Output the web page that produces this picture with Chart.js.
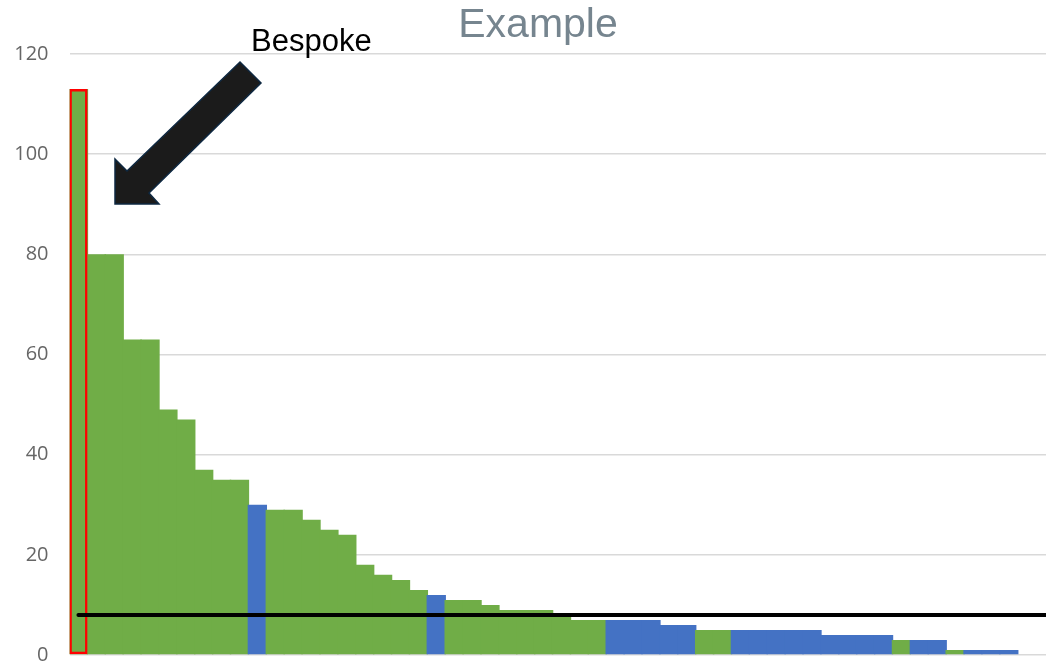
<!DOCTYPE html>
<html>
<head>
<meta charset="utf-8">
<script src="https://cdn.jsdelivr.net/npm/chart.js@4.4.1/dist/chart.umd.min.js"></script>
<style>
  html, body { margin: 0; padding: 0; background: #fff; }
  #wrap { width: 1046px; height: 665px; }
</style>
</head>
<body>
<div id="wrap"><canvas id="c" width="1046" height="665"></canvas></div>
<script>
// ---- data ----
const values = [113, 80, 80, 63, 63, 49, 47, 37, 35, 35, 30, 29, 29, 27, 25, 24, 18, 16, 15, 13, 12, 11, 11, 10, 9, 9, 9, 8, 7, 7, 7, 7, 7, 6, 6, 5, 5, 5, 5, 5, 5, 5, 4, 4, 4, 4, 3, 3, 3, 1, 1, 1, 1];
const groups = ['g','g','g','g','g','g','g','g','g','g','b','g','g','g','g','g','g','g','g','g','b','g','g','g','g','g','g','g','g','g','b','b','b','b','b','g','g','b','b','b','b','b','b','b','b','b','g','b','b','g','b','b','b'];
const highlighted = [0];
const threshold = 8;
const yTicks = [0, 20, 40, 60, 80, 100, 120];
const title = 'Example';
const annotationText = 'Bespoke';

const GREEN = '#70AD47', BLUE = '#4472C4';
const xMax = 54.58;

const barData = values.map((v, i) => ({ x: i + 0.5, y: v }));
const barColors = groups.map(g => g === 'g' ? GREEN : BLUE);
const highlightData = highlighted.map(i => ({ x: i + 0.5, y: values[i] }));

const decor = {
  id: 'decor',
  afterDraw(chart) {
    const ctx = chart.ctx;
    ctx.save();
    // title
    ctx.font = '41px "Liberation Sans", Arial, sans-serif';
    ctx.fillStyle = '#76858f';
    ctx.textAlign = 'center';
    ctx.textBaseline = 'alphabetic';
    ctx.fillText(title, 538, 37);
    // annotation text
    ctx.font = '31px "Liberation Sans", Arial, sans-serif';
    ctx.fillStyle = '#000';
    ctx.textAlign = 'left';
    ctx.fillText(annotationText, 251, 51);
    // arrow
    ctx.beginPath();
    ctx.moveTo(240, 62);
    ctx.lineTo(261, 83);
    ctx.lineTo(149, 193);
    ctx.lineTo(159, 204);
    ctx.lineTo(115, 204);
    ctx.lineTo(115, 159);
    ctx.lineTo(127, 171);
    ctx.closePath();
    ctx.fillStyle = '#1b1b1b';
    ctx.fill();
    ctx.lineWidth = 1.5;
    ctx.strokeStyle = '#0e2841';
    ctx.stroke();
    ctx.restore();
  }
};

new Chart(document.getElementById('c'), {
  type: 'bar',
  data: {
    datasets: [
      {
        type: 'line',
        data: [{ x: 0.5, y: threshold }, { x: xMax, y: threshold }],
        borderColor: '#000',
        borderWidth: 4,
        borderCapStyle: 'round',
        pointRadius: 0,
        fill: false,
        order: 0,
        clip: false
      },
      {
        type: 'bar',
        data: highlightData,
        backgroundColor: 'rgba(0,0,0,0)',
        borderColor: '#FF0000',
        borderWidth: 2.5,
        borderSkipped: false,
        barPercentage: 1.02,
        categoryPercentage: 1,
        grouped: false,
        order: 1
      },
      {
        type: 'bar',
        data: barData,
        backgroundColor: barColors,
        borderWidth: 0,
        barPercentage: 1.08,
        categoryPercentage: 1,
        grouped: false,
        order: 2
      }
    ]
  },
  options: {
    responsive: false,
    animation: false,
    layout: { padding: { top: 54, bottom: 9, left: 0, right: 0 } },
    plugins: { legend: { display: false }, tooltip: { enabled: false }, title: { display: false } },
    scales: {
      x: {
        type: 'linear',
        min: 0,
        max: xMax,
        offset: false,
        display: false
      },
      y: {
        min: 0,
        max: 120,
        afterBuildTicks(scale) { scale.ticks = yTicks.map(v => ({ value: v })); },
        afterFit(scale) { scale.width = 69.5; },
        border: { display: false },
        grid: { color: '#d9d9d9', lineWidth: 1.5, drawTicks: true, tickLength: 21, tickColor: 'rgba(0,0,0,0)' },
        ticks: {
          padding: 0,
          color: '#666',
          font: { family: '"Open Sans", "Liberation Sans", sans-serif', size: 20, lineHeight: 1 }
        }
      }
    }
  },
  plugins: [decor]
});
</script>
</body>
</html>
